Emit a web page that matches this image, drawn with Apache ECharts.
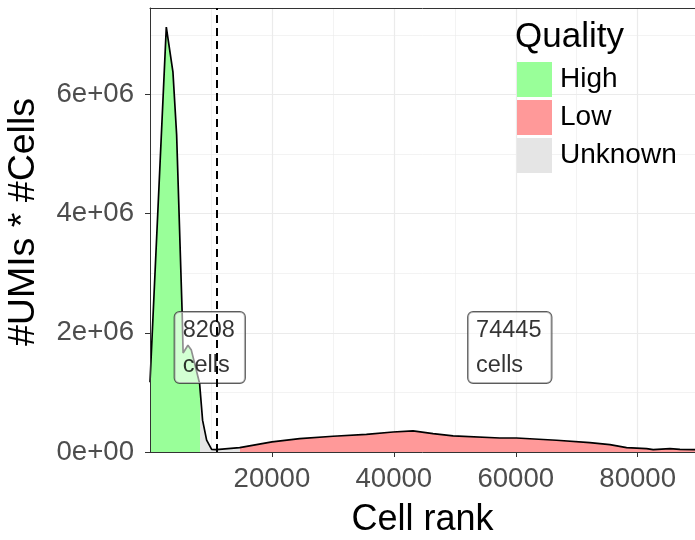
<!DOCTYPE html>
<html><head><meta charset="utf-8">
<script src="https://cdn.jsdelivr.net/npm/echarts@6/dist/echarts.min.js"></script>
<style>html,body{margin:0;padding:0;background:#fff}#c{width:695px;height:540px}</style>
</head><body><div id="c"></div>
<script>
// Cell rank (x) and #UMIs * #Cells (y)
const ranks = [0, 2675, 3760, 4370, 5270, 5430, 6220, 6780, 8140, 8208, 8630, 9290, 10110, 10880, 12790,
  14710, 20010, 24550, 30020, 35500, 39870, 43150, 46430, 49720, 57380, 60120, 66690, 72150, 75440,
  78180, 81460, 82540, 85290, 86930, 89400];
const umis = [1.17e6, 7.13e6, 6.38e6, 5.32e6, 2.35e6, 1.66e6, 1.79e6, 1.71e6, 1.15e6, 1.06e6, 0.53e6, 0.20e6, 0.045e6, 0.04e6, 0.057e6,
  0.074e6, 0.171e6, 0.225e6, 0.264e6, 0.297e6, 0.336e6, 0.353e6, 0.309e6, 0.269e6, 0.235e6, 0.235e6, 0.197e6, 0.158e6, 0.124e6,
  0.074e6, 0.057e6, 0.040e6, 0.057e6, 0.045e6, 0.040e6];
const quality = ['High','High','High','High','High','High','High','High','High','Unknown','Unknown','Unknown','Unknown','Unknown','Unknown',
  'Low','Low','Low','Low','Low','Low','Low','Low','Low','Low','Low','Low','Low','Low',
  'Low','Low','Low','Low','Low','Low'];
const qualityNames = ['High', 'Low', 'Unknown'];
const qualityColors = ['#99FF99', '#FF9999', '#E5E5E5'];
const labelTexts = ['8208\ncells', '74445\ncells'];
const labelRanks = [4040, 52180];
const labelUmis = [2.35e6, 2.35e6];
const thresholdRank = 10880;
const xTickValues = [20000, 40000, 60000, 80000];
const yTickValues = [0, 2e6, 4e6, 6e6];

const FONT = 'Liberation Sans, Arial, sans-serif';
const XMAX = 89400, YMAX = 7.45e6;

function segData(q) {
  const out = [];
  for (let i = 0; i < ranks.length; i++) {
    if (quality[i] === q) {
      out.push([ranks[i], umis[i]]);
      if (i + 1 < ranks.length && quality[i + 1] !== q) out.push([ranks[i + 1], umis[i + 1]]);
    }
  }
  return out;
}
function sci(v) {
  if (v === 0) return '0e+00';
  const e = Math.floor(Math.log10(v) + 1e-9);
  const m = Math.round(v / Math.pow(10, e) * 100) / 100;
  return m + 'e+' + String(e).padStart(2, '0');
}

const chart = echarts.init(document.getElementById('c'), null, {renderer: 'canvas'});
const series = [];
qualityNames.forEach((q, i) => {
  series.push({
    name: q, type: 'line', data: segData(q), showSymbol: false, silent: true,
    color: qualityColors[i], itemStyle: {color: qualityColors[i]},
    lineStyle: {width: 0}, areaStyle: {color: qualityColors[i], opacity: 1}, z: 1
  });
});
series.push({
  name: 'outline', type: 'line', data: ranks.map((r, i) => [r, umis[i]]), showSymbol: false, silent: true,
  lineStyle: {color: '#000', width: 1.7}, itemStyle: {color: '#000'}, z: 3
});
series.push({
  name: 'labels', type: 'scatter', symbolSize: 0, silent: true, z: 4,
  data: labelTexts.map((t, i) => [labelRanks[i], labelUmis[i], t]),
  label: {
    show: true, position: [0, 0], align: 'left', verticalAlign: 'top',
    formatter: p => p.data[2], fontFamily: FONT, fontSize: 23.5, lineHeight: 35, color: '#000',
    backgroundColor: 'rgba(255,255,255,0.7)', borderColor: '#333', borderWidth: 1, borderRadius: 5,
    padding: [1, 10, 0, 8]
  }
});
series.push({
  name: 'threshold', type: 'line', data: [], z: 20, zlevel: 1, silent: true,
  markLine: {
    symbol: 'none', silent: true, label: {show: false}, z: 20,
    lineStyle: {color: '#000', width: 2, type: [8, 5]},
    data: [{xAxis: thresholdRank}]
  }
});

const borderAxis = pos => ({
  type: 'value', min: 0, max: XMAX, position: pos, z: 10,
  axisLine: {show: true, lineStyle: {color: '#333', width: 1}}, axisTick: {show: false}, axisLabel: {show: false}, splitLine: {show: false}
});

chart.setOption({
  animation: false,
  backgroundColor: '#fff',
  grid: {left: 150, top: 8, right: 0, bottom: 88, show: false, containLabel: false, outerBoundsMode: 'none'},
  title: {text: 'Quality', left: 515, top: 20, padding: 0, textStyle: {fontFamily: FONT, fontSize: 35, fontWeight: 'normal', color: '#000'}},
  legend: {
    data: qualityNames, orient: 'vertical', left: 517, top: 62, padding: 0,
    itemWidth: 35, itemHeight: 35, itemGap: 3, icon: 'rect',
    textStyle: {fontFamily: FONT, fontSize: 28, color: '#000', padding: [0, 0, 0, 3]},
    itemStyle: {borderWidth: 0}
  },
  xAxis: [{
    type: 'value', min: 0, max: XMAX, interval: 20000,
    name: 'Cell rank', nameLocation: 'middle', nameGap: 50,
    nameTextStyle: {fontFamily: FONT, fontSize: 36, color: '#000'},
    axisLine: {show: false},
    axisTick: {show: true, length: 5, lineStyle: {color: '#333', width: 1}, customValues: xTickValues},
    axisLabel: {fontFamily: FONT, fontSize: 27.6, color: '#4d4d4d', margin: 13, customValues: xTickValues, formatter: v => String(v)},
    splitLine: {show: true, lineStyle: {color: '#EBEBEB', width: 1.2}},
    minorTick: {show: false, splitNumber: 2},
    minorSplitLine: {show: true, lineStyle: {color: '#EBEBEB', width: 0.6}}
  }, borderAxis('bottom'), borderAxis('top')],
  yAxis: [{
    type: 'value', min: 0, max: YMAX, interval: 2e6,
    name: '#UMIs * #Cells', nameLocation: 'middle', nameGap: 107, nameRotate: 90,
    nameTextStyle: {fontFamily: FONT, fontSize: 37.5, color: '#000', padding: [0, 0, 0, 16]},
    axisLine: {show: false},
    axisTick: {show: true, length: 5, lineStyle: {color: '#333', width: 1}, customValues: yTickValues},
    axisLabel: {fontFamily: FONT, fontSize: 27.6, color: '#4d4d4d', margin: 16, formatter: sci, customValues: yTickValues},
    splitLine: {show: true, lineStyle: {color: '#EBEBEB', width: 1.2}},
    minorTick: {show: false, splitNumber: 2},
    minorSplitLine: {show: true, lineStyle: {color: '#EBEBEB', width: 0.6}}
  }, {
    type: 'value', min: 0, max: YMAX, position: 'left', z: 10,
    axisLine: {show: true, lineStyle: {color: '#333', width: 1}}, axisTick: {show: false}, axisLabel: {show: false}, splitLine: {show: false}
  }],
  series: series
});
</script></body></html>
